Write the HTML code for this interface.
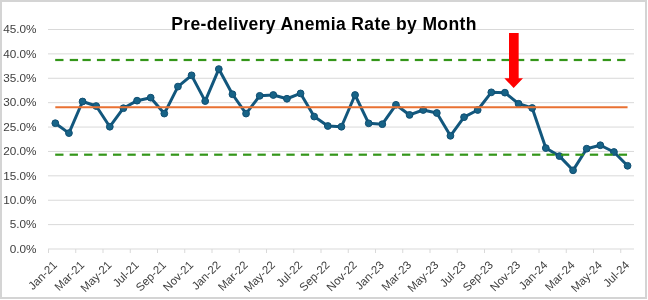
<!DOCTYPE html>
<html><head><meta charset="utf-8"><style>
html,body{margin:0;padding:0;background:#fff;}
body{width:648px;height:300px;position:relative;overflow:hidden;font-family:"Liberation Sans",sans-serif;}
.frame{position:absolute;left:0;top:0;width:647px;height:299px;box-sizing:border-box;border:2px solid #d4d4d4;}
</style></head><body>
<div class="frame"></div>
<svg width="648" height="300" viewBox="0 0 648 300" style="position:absolute;left:0;top:0;will-change:transform">
<line x1="48.0" y1="224.61" x2="634.0" y2="224.61" stroke="#d9d9d9" stroke-width="1"/>
<line x1="48.0" y1="200.22" x2="634.0" y2="200.22" stroke="#d9d9d9" stroke-width="1"/>
<line x1="48.0" y1="175.83" x2="634.0" y2="175.83" stroke="#d9d9d9" stroke-width="1"/>
<line x1="48.0" y1="151.44" x2="634.0" y2="151.44" stroke="#d9d9d9" stroke-width="1"/>
<line x1="48.0" y1="127.06" x2="634.0" y2="127.06" stroke="#d9d9d9" stroke-width="1"/>
<line x1="48.0" y1="102.67" x2="634.0" y2="102.67" stroke="#d9d9d9" stroke-width="1"/>
<line x1="48.0" y1="78.28" x2="634.0" y2="78.28" stroke="#d9d9d9" stroke-width="1"/>
<line x1="48.0" y1="53.89" x2="634.0" y2="53.89" stroke="#d9d9d9" stroke-width="1"/>
<line x1="48.0" y1="29.50" x2="634.0" y2="29.50" stroke="#d9d9d9" stroke-width="1"/>
<line x1="48.0" y1="249.0" x2="634.0" y2="249.0" stroke="#d9d9d9" stroke-width="1"/>
<line x1="48.50" y1="249.0" x2="48.50" y2="253.0" stroke="#d9d9d9" stroke-width="1"/>
<line x1="75.75" y1="249.0" x2="75.75" y2="253.0" stroke="#d9d9d9" stroke-width="1"/>
<line x1="103.00" y1="249.0" x2="103.00" y2="253.0" stroke="#d9d9d9" stroke-width="1"/>
<line x1="130.25" y1="249.0" x2="130.25" y2="253.0" stroke="#d9d9d9" stroke-width="1"/>
<line x1="157.50" y1="249.0" x2="157.50" y2="253.0" stroke="#d9d9d9" stroke-width="1"/>
<line x1="184.75" y1="249.0" x2="184.75" y2="253.0" stroke="#d9d9d9" stroke-width="1"/>
<line x1="212.00" y1="249.0" x2="212.00" y2="253.0" stroke="#d9d9d9" stroke-width="1"/>
<line x1="239.25" y1="249.0" x2="239.25" y2="253.0" stroke="#d9d9d9" stroke-width="1"/>
<line x1="266.50" y1="249.0" x2="266.50" y2="253.0" stroke="#d9d9d9" stroke-width="1"/>
<line x1="293.75" y1="249.0" x2="293.75" y2="253.0" stroke="#d9d9d9" stroke-width="1"/>
<line x1="321.00" y1="249.0" x2="321.00" y2="253.0" stroke="#d9d9d9" stroke-width="1"/>
<line x1="348.25" y1="249.0" x2="348.25" y2="253.0" stroke="#d9d9d9" stroke-width="1"/>
<line x1="375.50" y1="249.0" x2="375.50" y2="253.0" stroke="#d9d9d9" stroke-width="1"/>
<line x1="402.75" y1="249.0" x2="402.75" y2="253.0" stroke="#d9d9d9" stroke-width="1"/>
<line x1="430.00" y1="249.0" x2="430.00" y2="253.0" stroke="#d9d9d9" stroke-width="1"/>
<line x1="457.25" y1="249.0" x2="457.25" y2="253.0" stroke="#d9d9d9" stroke-width="1"/>
<line x1="484.50" y1="249.0" x2="484.50" y2="253.0" stroke="#d9d9d9" stroke-width="1"/>
<line x1="511.75" y1="249.0" x2="511.75" y2="253.0" stroke="#d9d9d9" stroke-width="1"/>
<line x1="539.00" y1="249.0" x2="539.00" y2="253.0" stroke="#d9d9d9" stroke-width="1"/>
<line x1="566.25" y1="249.0" x2="566.25" y2="253.0" stroke="#d9d9d9" stroke-width="1"/>
<line x1="593.50" y1="249.0" x2="593.50" y2="253.0" stroke="#d9d9d9" stroke-width="1"/>
<line x1="620.75" y1="249.0" x2="620.75" y2="253.0" stroke="#d9d9d9" stroke-width="1"/>
<text x="324" y="29.5" text-anchor="middle" font-family="Liberation Sans" font-weight="bold" font-size="17.5" letter-spacing="0.38" fill="#000">Pre-delivery Anemia Rate by Month</text>
<text x="36.5" y="252.80" text-anchor="end" font-family="Liberation Sans" font-size="11.75" fill="#404040">0.0%</text>
<text x="36.5" y="228.41" text-anchor="end" font-family="Liberation Sans" font-size="11.75" fill="#404040">5.0%</text>
<text x="36.5" y="204.02" text-anchor="end" font-family="Liberation Sans" font-size="11.75" fill="#404040">10.0%</text>
<text x="36.5" y="179.63" text-anchor="end" font-family="Liberation Sans" font-size="11.75" fill="#404040">15.0%</text>
<text x="36.5" y="155.24" text-anchor="end" font-family="Liberation Sans" font-size="11.75" fill="#404040">20.0%</text>
<text x="36.5" y="130.86" text-anchor="end" font-family="Liberation Sans" font-size="11.75" fill="#404040">25.0%</text>
<text x="36.5" y="106.47" text-anchor="end" font-family="Liberation Sans" font-size="11.75" fill="#404040">30.0%</text>
<text x="36.5" y="82.08" text-anchor="end" font-family="Liberation Sans" font-size="11.75" fill="#404040">35.0%</text>
<text x="36.5" y="57.69" text-anchor="end" font-family="Liberation Sans" font-size="11.75" fill="#404040">40.0%</text>
<text x="36.5" y="33.30" text-anchor="end" font-family="Liberation Sans" font-size="11.75" fill="#404040">45.0%</text>
<text transform="translate(57.81,265.7) rotate(-45)" x="0" y="0" text-anchor="end" font-family="Liberation Sans" font-size="11.5" fill="#404040">Jan-21</text>
<text transform="translate(85.06,265.7) rotate(-45)" x="0" y="0" text-anchor="end" font-family="Liberation Sans" font-size="11.5" fill="#404040">Mar-21</text>
<text transform="translate(112.31,265.7) rotate(-45)" x="0" y="0" text-anchor="end" font-family="Liberation Sans" font-size="11.5" fill="#404040">May-21</text>
<text transform="translate(139.56,265.7) rotate(-45)" x="0" y="0" text-anchor="end" font-family="Liberation Sans" font-size="11.5" fill="#404040">Jul-21</text>
<text transform="translate(166.81,265.7) rotate(-45)" x="0" y="0" text-anchor="end" font-family="Liberation Sans" font-size="11.5" fill="#404040">Sep-21</text>
<text transform="translate(194.06,265.7) rotate(-45)" x="0" y="0" text-anchor="end" font-family="Liberation Sans" font-size="11.5" fill="#404040">Nov-21</text>
<text transform="translate(221.31,265.7) rotate(-45)" x="0" y="0" text-anchor="end" font-family="Liberation Sans" font-size="11.5" fill="#404040">Jan-22</text>
<text transform="translate(248.56,265.7) rotate(-45)" x="0" y="0" text-anchor="end" font-family="Liberation Sans" font-size="11.5" fill="#404040">Mar-22</text>
<text transform="translate(275.81,265.7) rotate(-45)" x="0" y="0" text-anchor="end" font-family="Liberation Sans" font-size="11.5" fill="#404040">May-22</text>
<text transform="translate(303.06,265.7) rotate(-45)" x="0" y="0" text-anchor="end" font-family="Liberation Sans" font-size="11.5" fill="#404040">Jul-22</text>
<text transform="translate(330.31,265.7) rotate(-45)" x="0" y="0" text-anchor="end" font-family="Liberation Sans" font-size="11.5" fill="#404040">Sep-22</text>
<text transform="translate(357.56,265.7) rotate(-45)" x="0" y="0" text-anchor="end" font-family="Liberation Sans" font-size="11.5" fill="#404040">Nov-22</text>
<text transform="translate(384.81,265.7) rotate(-45)" x="0" y="0" text-anchor="end" font-family="Liberation Sans" font-size="11.5" fill="#404040">Jan-23</text>
<text transform="translate(412.06,265.7) rotate(-45)" x="0" y="0" text-anchor="end" font-family="Liberation Sans" font-size="11.5" fill="#404040">Mar-23</text>
<text transform="translate(439.31,265.7) rotate(-45)" x="0" y="0" text-anchor="end" font-family="Liberation Sans" font-size="11.5" fill="#404040">May-23</text>
<text transform="translate(466.56,265.7) rotate(-45)" x="0" y="0" text-anchor="end" font-family="Liberation Sans" font-size="11.5" fill="#404040">Jul-23</text>
<text transform="translate(493.81,265.7) rotate(-45)" x="0" y="0" text-anchor="end" font-family="Liberation Sans" font-size="11.5" fill="#404040">Sep-23</text>
<text transform="translate(521.06,265.7) rotate(-45)" x="0" y="0" text-anchor="end" font-family="Liberation Sans" font-size="11.5" fill="#404040">Nov-23</text>
<text transform="translate(548.31,265.7) rotate(-45)" x="0" y="0" text-anchor="end" font-family="Liberation Sans" font-size="11.5" fill="#404040">Jan-24</text>
<text transform="translate(575.56,265.7) rotate(-45)" x="0" y="0" text-anchor="end" font-family="Liberation Sans" font-size="11.5" fill="#404040">Mar-24</text>
<text transform="translate(602.81,265.7) rotate(-45)" x="0" y="0" text-anchor="end" font-family="Liberation Sans" font-size="11.5" fill="#404040">May-24</text>
<text transform="translate(630.06,265.7) rotate(-45)" x="0" y="0" text-anchor="end" font-family="Liberation Sans" font-size="11.5" fill="#404040">Jul-24</text>
<polyline points="55.31,123.20 68.94,133.10 82.56,101.50 96.19,106.03 109.81,126.73 123.44,108.20 137.06,100.67 150.69,97.67 164.31,113.58 177.94,86.58 191.56,75.33 205.19,101.08 218.81,69.08 232.44,94.25 246.06,113.58 259.69,95.83 273.31,95.00 286.94,98.75 300.56,93.42 314.19,116.58 327.81,126.00 341.44,126.75 355.06,95.00 368.69,123.33 382.31,124.17 395.94,104.83 409.56,114.92 423.19,110.00 436.81,113.00 450.44,135.83 464.06,117.17 477.69,110.00 491.31,92.33 504.94,92.67 518.56,103.77 532.19,108.00 545.81,148.08 559.44,156.10 573.06,170.33 586.69,148.70 600.31,145.25 613.94,152.00 627.56,165.80" fill="none" stroke="#12577d" stroke-width="3" stroke-linejoin="round"/>
<circle cx="55.31" cy="123.20" r="3.4" fill="#176387" stroke="#0f4e72" stroke-width="1"/>
<circle cx="68.94" cy="133.10" r="3.4" fill="#176387" stroke="#0f4e72" stroke-width="1"/>
<circle cx="82.56" cy="101.50" r="3.4" fill="#176387" stroke="#0f4e72" stroke-width="1"/>
<circle cx="96.19" cy="106.03" r="3.4" fill="#176387" stroke="#0f4e72" stroke-width="1"/>
<circle cx="109.81" cy="126.73" r="3.4" fill="#176387" stroke="#0f4e72" stroke-width="1"/>
<circle cx="123.44" cy="108.20" r="3.4" fill="#176387" stroke="#0f4e72" stroke-width="1"/>
<circle cx="137.06" cy="100.67" r="3.4" fill="#176387" stroke="#0f4e72" stroke-width="1"/>
<circle cx="150.69" cy="97.67" r="3.4" fill="#176387" stroke="#0f4e72" stroke-width="1"/>
<circle cx="164.31" cy="113.58" r="3.4" fill="#176387" stroke="#0f4e72" stroke-width="1"/>
<circle cx="177.94" cy="86.58" r="3.4" fill="#176387" stroke="#0f4e72" stroke-width="1"/>
<circle cx="191.56" cy="75.33" r="3.4" fill="#176387" stroke="#0f4e72" stroke-width="1"/>
<circle cx="205.19" cy="101.08" r="3.4" fill="#176387" stroke="#0f4e72" stroke-width="1"/>
<circle cx="218.81" cy="69.08" r="3.4" fill="#176387" stroke="#0f4e72" stroke-width="1"/>
<circle cx="232.44" cy="94.25" r="3.4" fill="#176387" stroke="#0f4e72" stroke-width="1"/>
<circle cx="246.06" cy="113.58" r="3.4" fill="#176387" stroke="#0f4e72" stroke-width="1"/>
<circle cx="259.69" cy="95.83" r="3.4" fill="#176387" stroke="#0f4e72" stroke-width="1"/>
<circle cx="273.31" cy="95.00" r="3.4" fill="#176387" stroke="#0f4e72" stroke-width="1"/>
<circle cx="286.94" cy="98.75" r="3.4" fill="#176387" stroke="#0f4e72" stroke-width="1"/>
<circle cx="300.56" cy="93.42" r="3.4" fill="#176387" stroke="#0f4e72" stroke-width="1"/>
<circle cx="314.19" cy="116.58" r="3.4" fill="#176387" stroke="#0f4e72" stroke-width="1"/>
<circle cx="327.81" cy="126.00" r="3.4" fill="#176387" stroke="#0f4e72" stroke-width="1"/>
<circle cx="341.44" cy="126.75" r="3.4" fill="#176387" stroke="#0f4e72" stroke-width="1"/>
<circle cx="355.06" cy="95.00" r="3.4" fill="#176387" stroke="#0f4e72" stroke-width="1"/>
<circle cx="368.69" cy="123.33" r="3.4" fill="#176387" stroke="#0f4e72" stroke-width="1"/>
<circle cx="382.31" cy="124.17" r="3.4" fill="#176387" stroke="#0f4e72" stroke-width="1"/>
<circle cx="395.94" cy="104.83" r="3.4" fill="#176387" stroke="#0f4e72" stroke-width="1"/>
<circle cx="409.56" cy="114.92" r="3.4" fill="#176387" stroke="#0f4e72" stroke-width="1"/>
<circle cx="423.19" cy="110.00" r="3.4" fill="#176387" stroke="#0f4e72" stroke-width="1"/>
<circle cx="436.81" cy="113.00" r="3.4" fill="#176387" stroke="#0f4e72" stroke-width="1"/>
<circle cx="450.44" cy="135.83" r="3.4" fill="#176387" stroke="#0f4e72" stroke-width="1"/>
<circle cx="464.06" cy="117.17" r="3.4" fill="#176387" stroke="#0f4e72" stroke-width="1"/>
<circle cx="477.69" cy="110.00" r="3.4" fill="#176387" stroke="#0f4e72" stroke-width="1"/>
<circle cx="491.31" cy="92.33" r="3.4" fill="#176387" stroke="#0f4e72" stroke-width="1"/>
<circle cx="504.94" cy="92.67" r="3.4" fill="#176387" stroke="#0f4e72" stroke-width="1"/>
<circle cx="518.56" cy="103.77" r="3.4" fill="#176387" stroke="#0f4e72" stroke-width="1"/>
<circle cx="532.19" cy="108.00" r="3.4" fill="#176387" stroke="#0f4e72" stroke-width="1"/>
<circle cx="545.81" cy="148.08" r="3.4" fill="#176387" stroke="#0f4e72" stroke-width="1"/>
<circle cx="559.44" cy="156.10" r="3.4" fill="#176387" stroke="#0f4e72" stroke-width="1"/>
<circle cx="573.06" cy="170.33" r="3.4" fill="#176387" stroke="#0f4e72" stroke-width="1"/>
<circle cx="586.69" cy="148.70" r="3.4" fill="#176387" stroke="#0f4e72" stroke-width="1"/>
<circle cx="600.31" cy="145.25" r="3.4" fill="#176387" stroke="#0f4e72" stroke-width="1"/>
<circle cx="613.94" cy="152.00" r="3.4" fill="#176387" stroke="#0f4e72" stroke-width="1"/>
<circle cx="627.56" cy="165.80" r="3.4" fill="#176387" stroke="#0f4e72" stroke-width="1"/>
<rect x="55.19" y="58.90" width="8.30" height="2.2" fill="#34961a"/>
<rect x="69.75" y="58.90" width="8.30" height="2.2" fill="#34961a"/>
<rect x="82.47" y="58.90" width="8.30" height="2.2" fill="#34961a"/>
<rect x="96.92" y="58.90" width="8.30" height="2.2" fill="#34961a"/>
<rect x="111.37" y="58.90" width="8.30" height="2.2" fill="#34961a"/>
<rect x="125.82" y="58.90" width="8.30" height="2.2" fill="#34961a"/>
<rect x="140.27" y="58.90" width="8.30" height="2.2" fill="#34961a"/>
<rect x="154.72" y="58.90" width="8.30" height="2.2" fill="#34961a"/>
<rect x="169.17" y="58.90" width="8.30" height="2.2" fill="#34961a"/>
<rect x="183.62" y="58.90" width="8.30" height="2.2" fill="#34961a"/>
<rect x="198.07" y="58.90" width="8.30" height="2.2" fill="#34961a"/>
<rect x="212.52" y="58.90" width="8.30" height="2.2" fill="#34961a"/>
<rect x="226.97" y="58.90" width="8.30" height="2.2" fill="#34961a"/>
<rect x="241.42" y="58.90" width="8.30" height="2.2" fill="#34961a"/>
<rect x="255.87" y="58.90" width="8.30" height="2.2" fill="#34961a"/>
<rect x="270.32" y="58.90" width="8.30" height="2.2" fill="#34961a"/>
<rect x="284.77" y="58.90" width="8.30" height="2.2" fill="#34961a"/>
<rect x="299.22" y="58.90" width="8.30" height="2.2" fill="#34961a"/>
<rect x="313.67" y="58.90" width="8.30" height="2.2" fill="#34961a"/>
<rect x="328.12" y="58.90" width="8.30" height="2.2" fill="#34961a"/>
<rect x="342.57" y="58.90" width="8.30" height="2.2" fill="#34961a"/>
<rect x="357.02" y="58.90" width="8.30" height="2.2" fill="#34961a"/>
<rect x="371.47" y="58.90" width="8.30" height="2.2" fill="#34961a"/>
<rect x="385.92" y="58.90" width="8.30" height="2.2" fill="#34961a"/>
<rect x="400.37" y="58.90" width="8.30" height="2.2" fill="#34961a"/>
<rect x="414.82" y="58.90" width="8.30" height="2.2" fill="#34961a"/>
<rect x="429.27" y="58.90" width="8.30" height="2.2" fill="#34961a"/>
<rect x="443.72" y="58.90" width="8.30" height="2.2" fill="#34961a"/>
<rect x="458.17" y="58.90" width="8.30" height="2.2" fill="#34961a"/>
<rect x="472.62" y="58.90" width="8.30" height="2.2" fill="#34961a"/>
<rect x="487.07" y="58.90" width="8.30" height="2.2" fill="#34961a"/>
<rect x="501.52" y="58.90" width="8.30" height="2.2" fill="#34961a"/>
<rect x="515.97" y="58.90" width="8.30" height="2.2" fill="#34961a"/>
<rect x="530.42" y="58.90" width="8.30" height="2.2" fill="#34961a"/>
<rect x="544.87" y="58.90" width="8.30" height="2.2" fill="#34961a"/>
<rect x="559.32" y="58.90" width="8.30" height="2.2" fill="#34961a"/>
<rect x="573.77" y="58.90" width="8.30" height="2.2" fill="#34961a"/>
<rect x="588.22" y="58.90" width="8.30" height="2.2" fill="#34961a"/>
<rect x="602.67" y="58.90" width="8.30" height="2.2" fill="#34961a"/>
<rect x="617.12" y="58.90" width="8.30" height="2.2" fill="#34961a"/>
<rect x="55.19" y="153.60" width="8.30" height="2.2" fill="#34961a"/>
<rect x="69.64" y="153.60" width="8.30" height="2.2" fill="#34961a"/>
<rect x="84.09" y="153.60" width="8.30" height="2.2" fill="#34961a"/>
<rect x="98.54" y="153.60" width="8.30" height="2.2" fill="#34961a"/>
<rect x="112.99" y="153.60" width="8.30" height="2.2" fill="#34961a"/>
<rect x="127.44" y="153.60" width="8.30" height="2.2" fill="#34961a"/>
<rect x="141.89" y="153.60" width="8.30" height="2.2" fill="#34961a"/>
<rect x="156.34" y="153.60" width="8.30" height="2.2" fill="#34961a"/>
<rect x="170.79" y="153.60" width="8.30" height="2.2" fill="#34961a"/>
<rect x="185.24" y="153.60" width="8.30" height="2.2" fill="#34961a"/>
<rect x="199.69" y="153.60" width="8.30" height="2.2" fill="#34961a"/>
<rect x="214.14" y="153.60" width="8.30" height="2.2" fill="#34961a"/>
<rect x="228.59" y="153.60" width="8.30" height="2.2" fill="#34961a"/>
<rect x="243.04" y="153.60" width="8.30" height="2.2" fill="#34961a"/>
<rect x="257.49" y="153.60" width="8.30" height="2.2" fill="#34961a"/>
<rect x="271.94" y="153.60" width="8.30" height="2.2" fill="#34961a"/>
<rect x="286.39" y="153.60" width="8.30" height="2.2" fill="#34961a"/>
<rect x="300.84" y="153.60" width="8.30" height="2.2" fill="#34961a"/>
<rect x="315.29" y="153.60" width="8.30" height="2.2" fill="#34961a"/>
<rect x="329.74" y="153.60" width="8.30" height="2.2" fill="#34961a"/>
<rect x="344.19" y="153.60" width="8.30" height="2.2" fill="#34961a"/>
<rect x="358.64" y="153.60" width="8.30" height="2.2" fill="#34961a"/>
<rect x="373.09" y="153.60" width="8.30" height="2.2" fill="#34961a"/>
<rect x="387.54" y="153.60" width="8.30" height="2.2" fill="#34961a"/>
<rect x="401.99" y="153.60" width="8.30" height="2.2" fill="#34961a"/>
<rect x="416.44" y="153.60" width="8.30" height="2.2" fill="#34961a"/>
<rect x="430.89" y="153.60" width="8.30" height="2.2" fill="#34961a"/>
<rect x="445.34" y="153.60" width="8.30" height="2.2" fill="#34961a"/>
<rect x="459.79" y="153.60" width="8.30" height="2.2" fill="#34961a"/>
<rect x="474.24" y="153.60" width="8.30" height="2.2" fill="#34961a"/>
<rect x="488.69" y="153.60" width="8.30" height="2.2" fill="#34961a"/>
<rect x="503.14" y="153.60" width="8.30" height="2.2" fill="#34961a"/>
<rect x="517.59" y="153.60" width="8.30" height="2.2" fill="#34961a"/>
<rect x="532.04" y="153.60" width="8.30" height="2.2" fill="#34961a"/>
<rect x="546.49" y="153.60" width="8.30" height="2.2" fill="#34961a"/>
<rect x="560.94" y="153.60" width="8.30" height="2.2" fill="#34961a"/>
<rect x="575.39" y="153.60" width="8.30" height="2.2" fill="#34961a"/>
<rect x="589.84" y="153.60" width="8.30" height="2.2" fill="#34961a"/>
<rect x="604.29" y="153.60" width="8.30" height="2.2" fill="#34961a"/>
<rect x="618.74" y="153.60" width="8.30" height="2.2" fill="#34961a"/>
<line x1="55.31" y1="107.2" x2="627.56" y2="107.2" stroke="#e97132" stroke-width="2"/>
<polygon points="509,33 518.67,33 518.67,78.3 523,78.3 513.67,88 504.33,78.3 509,78.3" fill="#ff0000"/>
</svg>
</body></html>
